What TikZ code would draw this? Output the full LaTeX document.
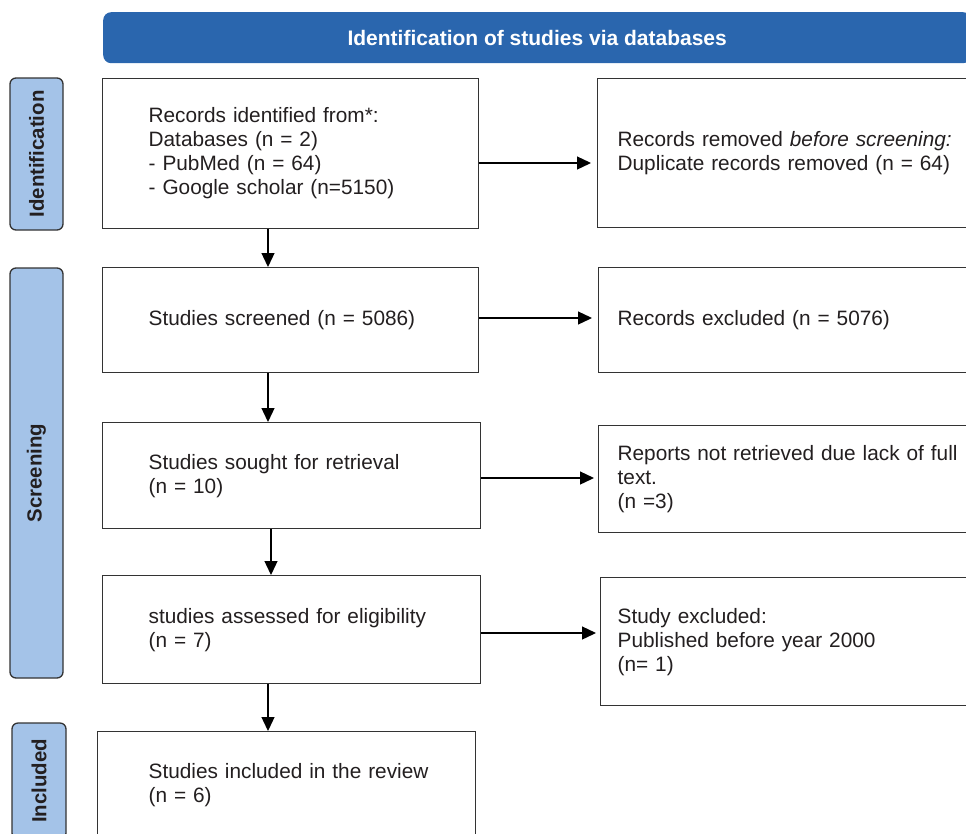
\documentclass[tikz,border=0pt]{standalone}
\usepackage{fontspec}
\setmainfont{Liberation Sans}
\usetikzlibrary{arrows.meta}
\definecolor{hdr}{HTML}{2A66AE}
\definecolor{lbl}{HTML}{A4C3E8}
\definecolor{txt}{HTML}{231F20}
\definecolor{edge}{HTML}{333333}
\begin{document}
\begin{tikzpicture}[x=1pt,y=-1pt,
  box/.style={draw=edge, line width=1.3pt, fill=white, text=txt, align=left,
    font=\fontsize{20.8}{24}\selectfont, anchor=north west, inner ysep=0pt},
  side/.style={draw=edge, line width=1.3pt, fill=lbl, text=txt, rounded corners=6pt,
    rotate=90, font=\fontsize{20.4}{22}\selectfont\bfseries, inner sep=0pt},
  arr/.style={draw=black, line width=1.3pt, -{Triangle[length=14pt,width=13pt]}}
]
\useasboundingbox (0,0) rectangle (966,833);
% header
\node[fill=hdr, rounded corners=8pt, anchor=north west, minimum width=868pt, minimum height=51pt,
  text=white, font=\fontsize{21}{24}\selectfont\bfseries, inner sep=0pt] (hd) at (103,12)
  {Identification of studies via databases};
% side labels
\node[side, minimum width=152pt, minimum height=53pt] (l1) at (36.5,154) {Identification};
\node[side, minimum width=410pt, minimum height=53pt] (l2) at (36.5,473) {Screening};
\node[side, minimum width=116pt, minimum height=54pt] (l3) at (39,781) {Included};
% left boxes
\node[box, inner xsep=46pt, text width=284pt, minimum height=150pt] (b1) at (102,78)
  {Records identified from*:\\Databases (n = 2)\\- PubMed (n = 64)\\- Google scholar (n=5150)\\[-18pt]\mbox{}};
\node[box, inner xsep=46pt, text width=284pt, minimum height=105pt] (b2) at (102,267)
  {Studies screened (n = 5086)};
\node[box, inner xsep=46pt, text width=286pt, minimum height=106pt] (b3) at (102,422)
  {Studies sought for retrieval\\(n = 10)};
\node[box, inner xsep=46pt, text width=286pt, minimum height=108pt] (b4) at (102,575)
  {studies assessed for eligibility\\(n = 7)};
\node[box, inner xsep=51pt, text width=276pt, minimum height=106pt] (b5) at (97,731)
  {\mbox{Studies included in the review}\\(n = 6)};
% right boxes
\node[box, inner xsep=20pt, text width=360pt, minimum height=149pt] (r1) at (597,78)
  {Records removed \textit{before screening:}\\Duplicate records removed (n = 64)};
\node[box, inner xsep=19pt, text width=362pt, minimum height=105pt] (r2) at (598,267)
  {Records excluded (n = 5076)};
\node[box, inner xsep=19pt, text width=362pt, minimum height=107pt] (r3) at (598,425)
  {Reports not retrieved due lack of full\\text.\\(n =3)};
\node[box, inner xsep=17pt, text width=366pt, minimum height=128pt] (r4) at (600,577)
  {Study excluded:\\Published before year 2000\\(n= 1)};
% horizontal arrows
\coordinate (h1) at (0,163);
\coordinate (h2) at (0,318);
\coordinate (h3) at (0,478);
\coordinate (h4) at (0,633);
\draw[arr, shorten >=6pt] (b1.east |- h1) -- (r1.west |- h1);
\draw[arr, shorten >=6pt] (b2.east |- h2) -- (r2.west |- h2);
\draw[arr, shorten >=4pt] (b3.east |- h3) -- (r3.west |- h3);
\draw[arr, shorten >=4pt] (b4.east |- h4) -- (r4.west |- h4);
% vertical arrows
\coordinate (v1) at (268,0);
\coordinate (v3) at (271,0);
\draw[arr] (b1.south -| v1) -- (b2.north -| v1);
\draw[arr] (b2.south -| v1) -- (b3.north -| v1);
\draw[arr] (b3.south -| v3) -- (b4.north -| v3);
\draw[arr] (b4.south -| v1) -- (b5.north -| v1);
\end{tikzpicture}
\end{document}
